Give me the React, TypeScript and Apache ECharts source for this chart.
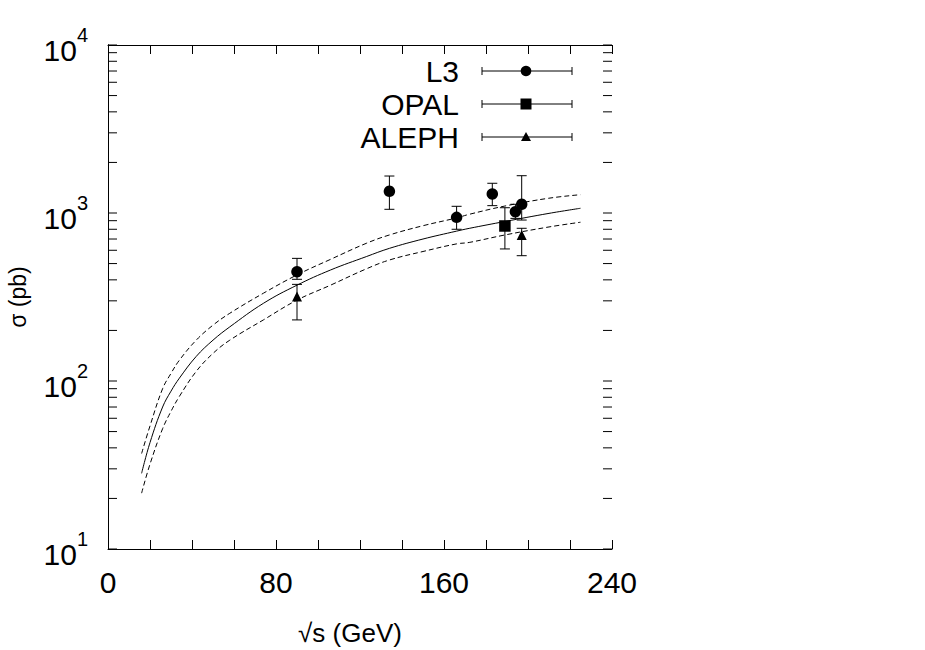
import React, { useEffect, useRef } from "react";
import * as echarts from "echarts";

const FONT = "Liberation Sans, Arial, Helvetica, sans-serif";

// Axis ticks and labels
const xTickLabels = [0, 80, 160, 240];
const yDecades = [10, 100, 1000, 10000];
const yExponents = ["1", "2", "3", "4"];
const yMinorMantissas = [1, 2, 3, 4, 5, 6, 7, 8, 9];

// Theory curves (sqrt(s) in GeV, sigma in pb)
const curveX = [16, 20, 26, 30, 34, 42, 50, 58, 74, 90, 106, 123, 134, 150, 166, 172, 189, 210, 225];
const curveCentral = [28.2, 43, 70, 87, 104, 140, 175, 210, 290, 372, 458, 550, 616, 700, 780, 810, 890, 995, 1067];
const curveUpper = [37, 54, 90, 111, 133, 175, 215, 253, 333, 428, 530, 660, 740, 840, 935, 982, 1100, 1225, 1285];
const curveLower = [21.5, 32, 52, 66, 81, 114, 146, 175, 231, 303, 372, 465, 525, 590, 655, 668, 740, 826, 881];

// Measurements
const l3X = [90, 134, 166, 183, 194, 197];
const l3Y = [447, 1346, 942, 1298, 1018, 1127];
const l3Lo = [403, 1052, 800, 1106, 929, 908];
const l3Hi = [537, 1660, 1096, 1503, 1127, 1667];

const opalX = [189];
const opalY = [837];
const opalLo = [611];
const opalHi = [1075];

const alephX = [90, 197];
const alephY = [318, 740];
const alephLo = [231, 557];
const alephHi = [376, 811];

const legendNames = ["L3", "OPAL", "ALEPH"];

function pairs(xs: number[], ys: number[]) {
  return xs.map((x, i) => [x, ys[i]]);
}
function errData(xs: number[], lo: number[], hi: number[]) {
  return xs.map((x, i) => [x, lo[i], hi[i]]);
}

function errorBarSeries(data: number[][]) {
  return {
    type: "custom",
    silent: true,
    clip: false,
    data,
    encode: { x: 0, y: [1, 2] },
    renderItem: (params: any, api: any) => {
      const x = api.value(0);
      const lo = api.coord([x, api.value(1)]);
      const hi = api.coord([x, api.value(2)]);
      const hw = 5;
      const st = { stroke: "#000", lineWidth: 1 };
      return {
        type: "group",
        children: [
          { type: "line", shape: { x1: lo[0], y1: lo[1], x2: hi[0], y2: hi[1] }, style: st },
          { type: "line", shape: { x1: lo[0] - hw, y1: lo[1], x2: lo[0] + hw, y2: lo[1] }, style: st },
          { type: "line", shape: { x1: hi[0] - hw, y1: hi[1], x2: hi[0] + hw, y2: hi[1] }, style: st },
        ],
      };
    },
    z: 3,
  };
}

export default function App() {
  const ref = useRef<HTMLDivElement>(null);
  useEffect(() => {
    if (!ref.current) return;
    const chart = echarts.init(ref.current, undefined, { renderer: "svg" });

    const minorData: number[][] = [];
    yDecades.slice(0, 3).forEach((d) => yMinorMantissas.forEach((m) => minorData.push([0, m * d])));
    minorData.push([0, yDecades[3]]);

    const legendY = [71, 104, 137];
    const legendGraphics: any[] = [];
    legendNames.forEach((name, i) => {
      const y = legendY[i];
      legendGraphics.push({
        type: "text",
        x: 459,
        y,
        style: { text: name, font: `30px ${FONT}`, fill: "#000", textAlign: "right", textVerticalAlign: "middle" },
      });
      legendGraphics.push({ type: "line", shape: { x1: 482, y1: y, x2: 572, y2: y }, style: { stroke: "#000", lineWidth: 1 } });
      legendGraphics.push({ type: "line", shape: { x1: 482, y1: y - 4, x2: 482, y2: y + 4 }, style: { stroke: "#000", lineWidth: 1 } });
      legendGraphics.push({ type: "line", shape: { x1: 572, y1: y - 4, x2: 572, y2: y + 4 }, style: { stroke: "#000", lineWidth: 1 } });
    });
    legendGraphics.push({ type: "circle", shape: { cx: 526, cy: legendY[0], r: 5.3 }, style: { fill: "#000" } });
    legendGraphics.push({ type: "rect", shape: { x: 520.5, y: legendY[1] - 5.5, width: 11, height: 11 }, style: { fill: "#000" } });
    legendGraphics.push({
      type: "polygon",
      shape: { points: [[526, legendY[2] - 5], [531, legendY[2] + 4], [521, legendY[2] + 4]] },
      style: { fill: "#000" },
    });

    const markerStyle = { color: "#000", opacity: 1 };

    const option: any = {
      animation: false,
      backgroundColor: "#fff",
      grid: { left: 108, top: 45, width: 504, height: 504, containLabel: false },
      xAxis: [
        {
          type: "value",
          min: 0,
          max: 240,
          interval: 20,
          axisLine: { show: true, lineStyle: { color: "#000", width: 1 } },
          axisTick: { show: true, inside: true, length: 9, lineStyle: { color: "#000", width: 1 } },
          axisLabel: {
            show: true,
            margin: 18,
            color: "#000",
            fontSize: 30,
            fontFamily: FONT,
            formatter: (v: number) => (xTickLabels.indexOf(v) >= 0 ? String(v) : ""),
          },
          splitLine: { show: false },
        },
        {
          type: "value",
          position: "top",
          min: 0,
          max: 240,
          interval: 20,
          axisLine: { show: true, lineStyle: { color: "#000", width: 1 } },
          axisTick: { show: true, inside: true, length: 9, lineStyle: { color: "#000", width: 1 } },
          axisLabel: { show: false },
          splitLine: { show: false },
        },
      ],
      yAxis: [
        {
          type: "log",
          logBase: 10,
          min: 10,
          max: 10000,
          axisLine: { show: true, lineStyle: { color: "#000", width: 1 } },
          axisTick: { show: false },
          axisLabel: {
            show: true,
            margin: 20,
            color: "#000",
            formatter: (v: number) => {
              const e = Math.round(Math.log10(v));
              const idx = yDecades.findIndex((d) => Math.round(Math.log10(d)) === e);
              if (idx < 0) return "";
              return `{b|10}{s|${yExponents[idx]}}`;
            },
            rich: {
              b: { fontSize: 30, fontFamily: FONT, color: "#000", padding: [10, 0, 0, 0], verticalAlign: "bottom" },
              s: { fontSize: 20, fontFamily: FONT, color: "#000", verticalAlign: "top" },
            },
          },
          splitLine: { show: false },
        },
        {
          type: "log",
          logBase: 10,
          min: 10,
          max: 10000,
          position: "right",
          axisLine: { show: true, lineStyle: { color: "#000", width: 1 } },
          axisTick: { show: false },
          axisLabel: { show: false },
          splitLine: { show: false },
        },
      ],
      graphic: [
        {
          type: "text",
          x: 350,
          y: 633,
          style: { text: "√s (GeV)", font: `26px ${FONT}`, fill: "#000", textAlign: "center", textVerticalAlign: "middle" },
        },
        {
          type: "text",
          x: 18,
          y: 297,
          rotation: Math.PI / 2,
          style: { text: "σ (pb)", font: `23px ${FONT}`, fill: "#000", textAlign: "center", textVerticalAlign: "middle" },
        },
        ...legendGraphics,
      ],
      series: [
        {
          type: "custom",
          silent: true,
          clip: false,
          data: minorData,
          renderItem: (params: any, api: any) => {
            const v = api.value(1);
            const l = api.coord([0, v]);
            const r = api.coord([240, v]);
            const st = { stroke: "#000", lineWidth: 1 };
            return {
              type: "group",
              children: [
                { type: "line", shape: { x1: l[0], y1: l[1], x2: l[0] + 9, y2: l[1] }, style: st },
                { type: "line", shape: { x1: r[0] - 9, y1: r[1], x2: r[0], y2: r[1] }, style: st },
              ],
            };
          },
          z: 1,
        },
        {
          type: "line",
          data: pairs(curveX, curveCentral),
          showSymbol: false,
          symbol: "none",
          smooth: 0.4,
          lineStyle: { color: "#000", width: 1 },
          silent: true,
          z: 2,
        },
        {
          type: "line",
          data: pairs(curveX, curveUpper),
          showSymbol: false,
          symbol: "none",
          smooth: 0.4,
          lineStyle: { color: "#000", width: 1, type: [5, 3] },
          silent: true,
          z: 2,
        },
        {
          type: "line",
          data: pairs(curveX, curveLower),
          showSymbol: false,
          symbol: "none",
          smooth: 0.4,
          lineStyle: { color: "#000", width: 1, type: [5, 3] },
          silent: true,
          z: 2,
        },
        errorBarSeries(errData(l3X, l3Lo, l3Hi)),
        errorBarSeries(errData(opalX, opalLo, opalHi)),
        errorBarSeries(errData(alephX, alephLo, alephHi)),
        {
          type: "scatter",
          name: "L3",
          data: pairs(l3X, l3Y),
          symbol: "circle",
          symbolSize: 11.5,
          itemStyle: markerStyle,
          silent: true,
          z: 4,
        },
        {
          type: "scatter",
          name: "OPAL",
          data: pairs(opalX, opalY),
          symbol: "rect",
          symbolSize: 11.5,
          itemStyle: markerStyle,
          silent: true,
          z: 4,
        },
        {
          type: "scatter",
          name: "ALEPH",
          data: pairs(alephX, alephY),
          symbol: "triangle",
          symbolSize: 10,
          itemStyle: markerStyle,
          silent: true,
          z: 4,
        },
      ],
    };
    chart.setOption(option);
    return () => chart.dispose();
  }, []);

  return <div ref={ref} style={{ position: "fixed", left: 0, top: 0, width: 925, height: 650, background: "#fff" }} />;
}
